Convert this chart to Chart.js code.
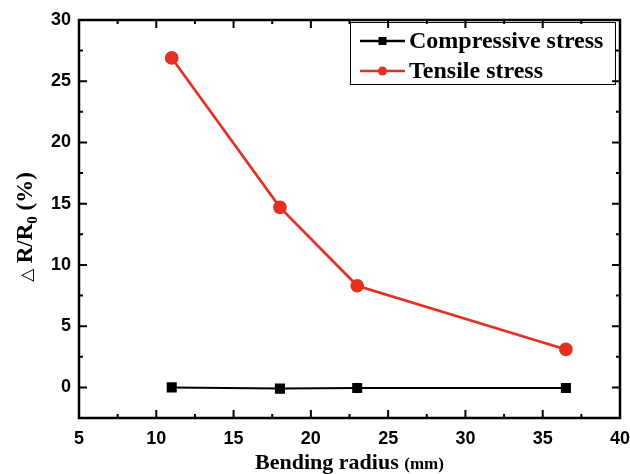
<!DOCTYPE html>
<html lang="en">
<head>
    <meta charset="UTF-8">
    <title>Bending radius vs resistance change</title>
    <style>
        body { margin: 0; padding: 0; background: #fff; }
        #wrap { width: 630px; height: 474px; }
    </style>
</head>
<body>
    <div id="wrap"><canvas id="stressChart" width="630" height="474"></canvas></div>

    <script src="https://cdn.jsdelivr.net/npm/chart.js"></script>
    <script>
        // Data
        const radius = [11, 18, 23, 36.5];
        const compressive = [0, -0.1, -0.05, -0.05];
        const tensile = [26.9, 14.7, 8.3, 3.1];
        const seriesNames = ['Compressive stress', 'Tensile stress'];
        const xTicks = [5, 10, 15, 20, 25, 30, 35, 40];
        const yTicks = [0, 5, 10, 15, 20, 25, 30];

        const red = 'rgb(228, 48, 34)';
        const serif = '"Liberation Serif", "Times New Roman", serif';
        const sans = '"Liberation Sans", Arial, sans-serif';

        // frame, inward ticks, legend box and axis titles
        const decorPlugin = {
            id: 'decor',
            afterDraw(chart) {
                const { ctx, chartArea: a, scales: { x, y } } = chart;
                ctx.save();
                ctx.strokeStyle = '#000';
                ctx.lineWidth = 2.5;
                ctx.strokeRect(a.left, a.top, a.right - a.left, a.bottom - a.top);

                ctx.lineWidth = 2;
                for (let v = 5; v <= 40; v += 2.5) {
                    const px = x.getPixelForValue(v);
                    const len = v % 5 === 0 ? 8 : 4;
                    ctx.beginPath();
                    ctx.moveTo(px, a.bottom); ctx.lineTo(px, a.bottom - len);
                    ctx.moveTo(px, a.top); ctx.lineTo(px, a.top + len);
                    ctx.stroke();
                }
                for (let v = 0; v <= 30; v += 2.5) {
                    const py = y.getPixelForValue(v);
                    const len = v % 5 === 0 ? 8 : 4;
                    ctx.beginPath();
                    ctx.moveTo(a.left, py); ctx.lineTo(a.left + len, py);
                    ctx.moveTo(a.right, py); ctx.lineTo(a.right - len, py);
                    ctx.stroke();
                }

                // legend
                ctx.lineWidth = 1;
                ctx.strokeRect(350.5, 22.5, 265, 62);
                const rows = [
                    { name: seriesNames[0], color: '#000', y: 41, square: true },
                    { name: seriesNames[1], color: red, y: 71, square: false }
                ];
                rows.forEach(r => {
                    ctx.strokeStyle = r.color;
                    ctx.fillStyle = r.color;
                    ctx.lineWidth = 2.5;
                    ctx.beginPath();
                    ctx.moveTo(360, r.y); ctx.lineTo(405, r.y);
                    ctx.stroke();
                    if (r.square) {
                        ctx.fillRect(378.5, r.y - 4, 8, 8);
                    } else {
                        ctx.beginPath();
                        ctx.arc(382.5, r.y, 4.5, 0, Math.PI * 2);
                        ctx.fill();
                    }
                    ctx.fillStyle = '#000';
                    ctx.font = 'bold 24px ' + serif;
                    ctx.textBaseline = 'middle';
                    ctx.textAlign = 'left';
                    ctx.fillText(r.name, 409, r.y + 1);
                });

                // x title
                ctx.fillStyle = '#000';
                ctx.textBaseline = 'alphabetic';
                const t1 = 'Bending radius ';
                ctx.font = 'bold 22px ' + serif;
                const w1 = ctx.measureText(t1).width;
                ctx.font = 'bold 17px ' + serif;
                const w2 = ctx.measureText('(mm)').width;
                const cx = (a.left + a.right) / 2;
                const sx = cx - (w1 + w2) / 2;
                ctx.font = 'bold 22px ' + serif;
                ctx.fillText(t1, sx, 469);
                ctx.font = 'bold 17px ' + serif;
                ctx.fillText('(mm)', sx + w1, 469);

                // y title, rotated
                ctx.translate(24, 227);
                ctx.rotate(-Math.PI / 2);
                const parts = [
                    { t: '\u25B3 ', f: '17px "DejaVu Sans", sans-serif', dy: 0 },
                    { t: 'R/R', f: 'bold 23px ' + serif, dy: 0 },
                    { t: '0', f: 'bold 15px ' + serif, dy: 5 },
                    { t: ' (%)', f: 'bold 23px ' + serif, dy: 0 }
                ];
                let total = 0;
                parts.forEach(p => { ctx.font = p.f; p.w = ctx.measureText(p.t).width; total += p.w; });
                let px = -total / 2;
                parts.forEach(p => {
                    ctx.font = p.f;
                    ctx.fillText(p.t, px, 8 + p.dy);
                    px += p.w;
                });
                ctx.restore();
            }
        };

        new Chart(document.getElementById('stressChart'), {
            type: 'line',
            data: {
                datasets: [
                    {
                        label: seriesNames[0],
                        data: radius.map((r, i) => ({ x: r, y: compressive[i] })),
                        borderColor: '#000',
                        backgroundColor: '#000',
                        borderWidth: 2,
                        pointStyle: 'rect',
                        pointRadius: 5.7,
                        pointHoverRadius: 5.7
                    },
                    {
                        label: seriesNames[1],
                        data: radius.map((r, i) => ({ x: r, y: tensile[i] })),
                        borderColor: red,
                        backgroundColor: red,
                        borderWidth: 2.7,
                        pointStyle: 'circle',
                        pointRadius: 5.5,
                        pointHoverRadius: 5.5
                    }
                ]
            },
            options: {
                responsive: false,
                animation: false,
                layout: { padding: { top: 20, right: 0, left: 0, bottom: 0 } },
                plugins: { legend: { display: false }, tooltip: { enabled: false } },
                scales: {
                    x: {
                        type: 'linear',
                        min: 5,
                        max: 40,
                        grid: { display: false, drawTicks: false },
                        border: { display: false },
                        afterBuildTicks: s => { s.ticks = xTicks.map(v => ({ value: v })); },
                        afterFit: s => { s.height = 56; s.paddingLeft = 0; s.paddingRight = 10; },
                        ticks: {
                            color: '#000',
                            padding: 10,
                            maxRotation: 0,
                            font: { family: sans, size: 18, weight: 'bold' }
                        }
                    },
                    y: {
                        min: -2.5,
                        max: 30,
                        grid: { display: false, drawTicks: false },
                        border: { display: false },
                        afterBuildTicks: s => { s.ticks = yTicks.map(v => ({ value: v })); },
                        afterFit: s => { s.width = 79; s.paddingTop = 0; s.paddingBottom = 0; },
                        ticks: {
                            color: '#000',
                            padding: 8,
                            font: { family: sans, size: 18, weight: 'bold' }
                        }
                    }
                }
            },
            plugins: [decorPlugin]
        });
    </script>
</body>
</html>
